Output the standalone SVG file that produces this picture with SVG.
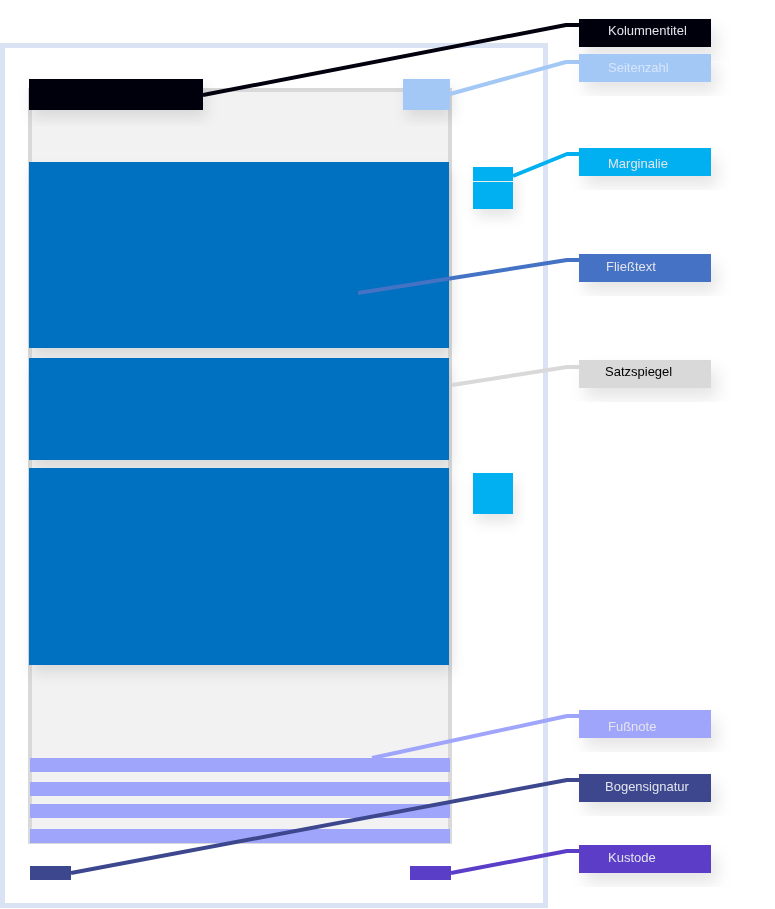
<svg xmlns="http://www.w3.org/2000/svg" width="775" height="909" viewBox="0 0 775 909">
<defs>
<filter id="sh" x="-30%" y="-30%" width="160%" height="180%">
<feDropShadow dx="6" dy="10" stdDeviation="8" flood-color="#000" flood-opacity="0.10"/>
</filter>
<filter id="shs" x="-30%" y="-30%" width="160%" height="180%">
<feDropShadow dx="3" dy="8" stdDeviation="7" flood-color="#000" flood-opacity="0.10"/>
</filter>
</defs>
<style>
.lbl{font-family:"Liberation Sans",Arial,sans-serif;font-size:13px;fill:#e4e4ec}
.con{fill:none;stroke-width:4;stroke-linejoin:round}
</style>
<rect width="775" height="909" fill="#ffffff"/>
<g id="page">
<rect x="2.5" y="45.5" width="543" height="860" fill="#ffffff" stroke="#dae3f3" stroke-width="5"/>
</g>
<g id="satzspiegel">
<rect x="30" y="90" width="420" height="752" fill="#f2f2f2" stroke="#d9d9d9" stroke-width="4"/>
</g>
<g id="fliesstext" filter="url(#shs)">
<rect x="29" y="162" width="420" height="186" fill="#0070c0"/>
<rect x="29" y="358" width="420" height="102" fill="#0070c0"/>
<rect x="29" y="468" width="420" height="197" fill="#0070c0"/>
</g>
<g id="kolumnentitel" filter="url(#shs)">
<rect x="29" y="79" width="174" height="31" fill="#02010d"/>
</g>
<g id="seitenzahl" filter="url(#shs)">
<rect x="403" y="79" width="47" height="31" fill="#a4c8f5"/>
</g>
<g id="marginalie" filter="url(#shs)">
<rect x="473" y="167" width="40" height="14" fill="#00b0f0"/>
<rect x="473" y="182" width="40" height="27" fill="#00b0f0"/>
<rect x="473" y="473" width="40" height="41" fill="#00b0f0"/>
</g>
<g id="fussnote">
<rect x="30" y="758" width="420" height="14" fill="#a0a5fc"/>
<rect x="30" y="782" width="420" height="14" fill="#a0a5fc"/>
<rect x="30" y="804" width="420" height="14" fill="#a0a5fc"/>
<rect x="30" y="829" width="420" height="14" fill="#a0a5fc"/>
</g>
<g id="bogensignatur">
<rect x="30" y="866" width="41" height="14" fill="#3c478e"/>
</g>
<g id="kustode">
<rect x="410" y="866" width="41" height="14" fill="#5b3ec8"/>
</g>
<g id="connectors">
<polyline class="con" stroke="#02010d" points="203,95 566,25 579,25"/>
<polyline class="con" stroke="#a4c8f5" points="450,94 566,62 579,62"/>
<polyline class="con" stroke="#00b0f0" points="513,176 567,154 579,154"/>
<polyline class="con" stroke="#4472c4" points="358,293 567,260 579,260"/>
<polyline class="con" stroke="#d9d9d9" points="452,385 567,367 579,367"/>
<polyline class="con" stroke="#a0a5fc" points="372,758 567,716 579,716"/>
<polyline class="con" stroke="#3c478e" points="71,873 567,780 579,780"/>
<polyline class="con" stroke="#5b3ec8" points="451,873 567,851 579,851"/>
</g>
<g id="label-kolumnentitel" filter="url(#sh)">
<rect x="579" y="19" width="132" height="28" fill="#02010d"/>
<text class="lbl" x="608" y="35">Kolumnentitel</text>
</g>
<g id="label-seitenzahl" filter="url(#sh)">
<rect x="579" y="54" width="132" height="28" fill="#a4c8f5"/>
<text class="lbl" x="608" y="72" style="fill:#d6e5fb">Seitenzahl</text>
</g>
<g id="label-marginalie" filter="url(#sh)">
<rect x="579" y="148" width="132" height="28" fill="#00b0f0"/>
<text class="lbl" x="608" y="168">Marginalie</text>
</g>
<g id="label-fliesstext" filter="url(#sh)">
<rect x="579" y="254" width="132" height="28" fill="#4472c4"/>
<text class="lbl" x="606" y="271">Fließtext</text>
</g>
<g id="label-satzspiegel" filter="url(#sh)">
<rect x="579" y="360" width="132" height="28" fill="#d9d9d9"/>
<text class="lbl" x="605" y="376" style="fill:#000000">Satzspiegel</text>
</g>
<g id="label-fussnote" filter="url(#sh)">
<rect x="579" y="710" width="132" height="28" fill="#a0a5fc"/>
<text class="lbl" x="608" y="731">Fußnote</text>
</g>
<g id="label-bogensignatur" filter="url(#sh)">
<rect x="579" y="774" width="132" height="28" fill="#3c478e"/>
<text class="lbl" x="605" y="791">Bogensignatur</text>
</g>
<g id="label-kustode" filter="url(#sh)">
<rect x="579" y="845" width="132" height="28" fill="#5b3ec8"/>
<text class="lbl" x="608" y="862">Kustode</text>
</g>
</svg>
